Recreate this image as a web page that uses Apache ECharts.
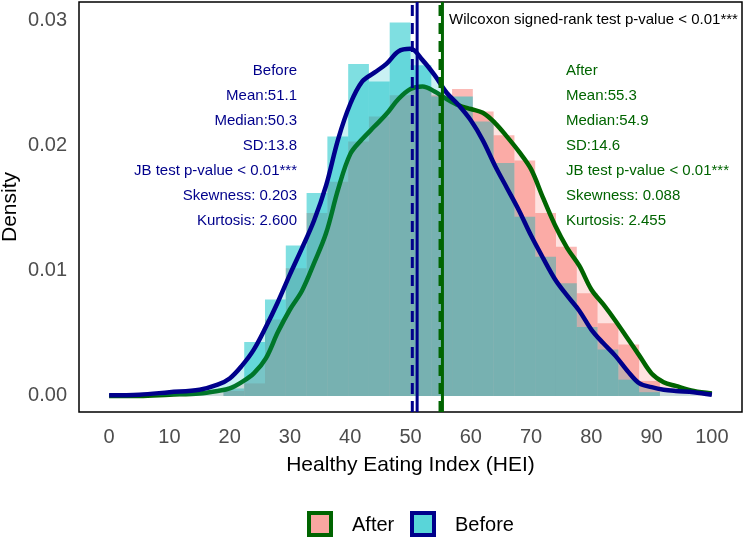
<!DOCTYPE html>
<html>
<head>
<meta charset="utf-8">
<script src="https://cdn.jsdelivr.net/npm/echarts@6/dist/echarts.min.js"></script>
<style>
  html, body { margin: 0; padding: 0; background: #fff; }
  #chart { width: 746px; height: 540px; }
</style>
</head>
<body>
<div id="chart"></div>
<script>
// histogram bins (30 bins over 0-100, only the non-empty ones)
const binEdges = [18.97, 22.41, 25.86, 29.31, 32.76, 36.21, 39.66, 43.10, 46.55, 50.00, 53.45,
  56.90, 60.34, 63.79, 67.24, 70.69, 74.14, 77.59, 81.03, 84.48, 87.93, 91.38];
const histBefore = [0.0006, 0.0043, 0.0077, 0.0120, 0.0162, 0.0207, 0.0265, 0.0251, 0.0298, 0.0264,
  0.0239, 0.0239, 0.0219, 0.0186, 0.0143, 0.0111, 0.0090, 0.0055, 0.0037, 0.0013, 0.0003];
const histAfter = [0.0004, 0.0010, 0.0061, 0.0102, 0.0146, 0.0171, 0.0203, 0.0223, 0.0240, 0.0245,
  0.0240, 0.0245, 0.0227, 0.0208, 0.0188, 0.0146, 0.0119, 0.0082, 0.0058, 0.0041, 0.0012];

// density curves
const densX = [0, 5, 10, 15, 18, 20, 22, 24, 26, 28, 30, 32, 34, 36, 38, 40, 42, 44, 46, 48, 50,
  52, 54, 56, 58, 60, 62, 64, 66, 68, 70, 72, 74, 76, 78, 80, 82, 84, 86, 88, 90, 92, 94, 97, 100];
const densBefore = [0.00005, 0.0001, 0.0003, 0.0005, 0.0009, 0.0014, 0.0024, 0.0037, 0.0055, 0.0075,
  0.0097, 0.0118, 0.0140, 0.0168, 0.0205, 0.0233, 0.0251, 0.0258, 0.0265, 0.0275, 0.0277,
  0.0268, 0.0256, 0.0242, 0.0232, 0.0220, 0.0204, 0.0184, 0.0166, 0.0148, 0.0128, 0.0110, 0.0093,
  0.0080, 0.0068, 0.0053, 0.0042, 0.0032, 0.0020, 0.0010, 0.0007, 0.0005, 0.0004, 0.0003, 0.0001];
const densAfter = [0.0000, 0.0000, 0.0001, 0.0002, 0.0004, 0.0006, 0.0011, 0.0018, 0.0030, 0.0051,
  0.0069, 0.0084, 0.0106, 0.0130, 0.0165, 0.0193, 0.0205, 0.0215, 0.0225, 0.0237, 0.0245,
  0.0247, 0.0243, 0.0237, 0.0232, 0.0229, 0.0226, 0.0218, 0.0207, 0.0195, 0.0181, 0.0158, 0.0136,
  0.0118, 0.0104, 0.0085, 0.0073, 0.0060, 0.0046, 0.0032, 0.0018, 0.0011, 0.0008, 0.0004, 0.0002];

const xTicks = [0, 10, 20, 30, 40, 50, 60, 70, 80, 90, 100];
const yTicks = [0, 0.01, 0.02, 0.03];

const meanBefore = 51.1, medianBefore = 50.3;
const meanAfter = 55.3, medianAfter = 54.9;

const statsBefore = ["Before", "Mean:51.1", "Median:50.3", "SD:13.8", "JB test p-value < 0.01***",
  "Skewness: 0.203", "Kurtosis: 2.600"];
const statsAfter = ["After", "Mean:55.3", "Median:54.9", "SD:14.6", "JB test p-value < 0.01***",
  "Skewness: 0.088", "Kurtosis: 2.455"];
const testText = "Wilcoxon signed-rank test p-value < 0.01***";

const NAVY = "#00008B", GREEN = "#006400";
const CYAN = "0,191,196", SALMON = "248,118,109";
const FONT = '"Liberation Sans", Arial, sans-serif';

const yMin = -0.00128, yMax = 0.03144;

function histSeries(name, heights, rgb, z) {
  return {
    name: name,
    type: "custom",
    z: z,
    silent: true,
    encode: { x: [0, 1], y: 2 },
    data: heights.map((h, i) => [binEdges[i], binEdges[i + 1], h]),
    renderItem: function (params, api) {
      const p0 = api.coord([api.value(0), api.value(2)]);
      const p1 = api.coord([api.value(1), 0]);
      return {
        type: "rect",
        shape: { x: p0[0], y: p0[1], width: p1[0] - p0[0], height: p1[1] - p0[1] },
        style: { fill: `rgba(${rgb},0.5)` },
      };
    },
  };
}

function densSeries(name, vals, rgb, lineColor, z) {
  return {
    name: name,
    type: "line",
    z: z,
    silent: true,
    smooth: 0.35,
    showSymbol: false,
    data: densX.map((x, i) => [x, vals[i]]),
    lineStyle: { color: lineColor, width: 4.5 },
    itemStyle: { color: lineColor },
    areaStyle: { color: `rgba(${rgb},0.3)` },
  };
}

function vLine(x, color, dashed) {
  return {
    type: "line",
    z: 6,
    silent: true,
    clip: false,
    showSymbol: false,
    data: [[x, yMin], [x, yMax]],
    lineStyle: { color: color, width: 3, type: dashed ? [11, 7] : "solid" },
  };
}

const graphics = [];
statsBefore.forEach((t, i) => {
  graphics.push({
    type: "text", x: 297, y: 71 + i * 25,
    style: { text: t, fill: NAVY, font: `15px ${FONT}`, textAlign: "right", textVerticalAlign: "middle" },
    z: 10,
  });
});
statsAfter.forEach((t, i) => {
  graphics.push({
    type: "text", x: 566, y: 71 + i * 25,
    style: { text: t, fill: GREEN, font: `15px ${FONT}`, textAlign: "left", textVerticalAlign: "middle" },
    z: 10,
  });
});
graphics.push({
  type: "text", x: 449, y: 20,
  style: { text: testText, fill: "#000", font: `15px ${FONT}`, textAlign: "left", textVerticalAlign: "middle" },
  z: 10,
});
// y axis title
graphics.push({
  type: "text", x: 10, y: 207, rotation: Math.PI / 2,
  style: { text: "Density", fill: "#000", font: `21px ${FONT}`, textAlign: "center", textVerticalAlign: "middle" },
});
// legend keys
[["After", SALMON, GREEN, 309, 352], ["Before", CYAN, NAVY, 412, 455]].forEach(([label, rgb, border, kx, tx]) => {
  graphics.push({
    type: "rect", shape: { x: kx, y: 513, width: 22, height: 22 },
    style: { fill: `rgba(${rgb},0.65)`, stroke: border, lineWidth: 4 },
  });
  graphics.push({
    type: "text", x: tx, y: 525,
    style: { text: label, fill: "#000", font: `20px ${FONT}`, textAlign: "left", textVerticalAlign: "middle" },
  });
});

const chart = echarts.init(document.getElementById("chart"), null, { renderer: "canvas" });
chart.setOption({
  backgroundColor: "#fff",
  animation: false,
  grid: { left: 79, right: 4, top: 2, bottom: 128, outerBoundsMode: "none", containLabel: false,
    show: true, borderColor: "#000", borderWidth: 1.5, backgroundColor: "transparent" },
  xAxis: {
    type: "value", min: -5, max: 105,
    name: "Healthy Eating Index (HEI)", nameLocation: "middle", nameGap: 43,
    nameTextStyle: { color: "#000", fontSize: 21, fontFamily: FONT },
    axisLine: { show: false }, axisTick: { show: false }, splitLine: { show: false },
    axisLabel: { customValues: xTicks, color: "#4D4D4D", fontSize: 20, fontFamily: FONT, margin: 15 },
  },
  yAxis: {
    type: "value", min: yMin, max: yMax,
    axisLine: { show: false }, axisTick: { show: false }, splitLine: { show: false },
    axisLabel: { customValues: yTicks, color: "#4D4D4D", fontSize: 20, fontFamily: FONT, margin: 12,
      formatter: (v) => v.toFixed(2) },
  },
  series: [
    histSeries("After hist", histAfter, SALMON, 1),
    histSeries("Before hist", histBefore, CYAN, 2),
    densSeries("After", densAfter, SALMON, GREEN, 3),
    densSeries("Before", densBefore, CYAN, NAVY, 4),
    vLine(medianBefore, NAVY, true),
    vLine(meanBefore, NAVY, false),
    vLine(medianAfter, GREEN, true),
    vLine(meanAfter, GREEN, false),
  ],
  graphic: graphics,
});
</script>
</body>
</html>
